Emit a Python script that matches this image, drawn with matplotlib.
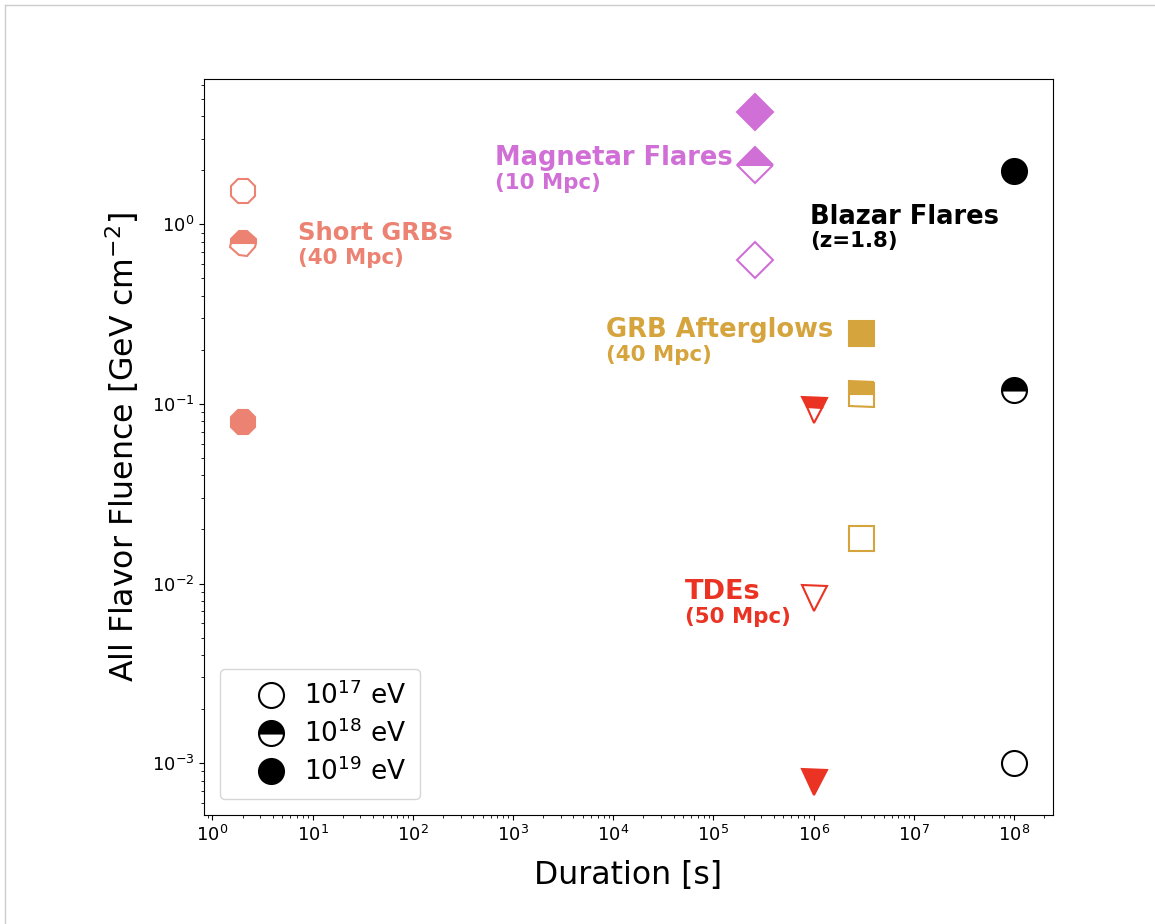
import matplotlib
matplotlib.use("Agg")
import matplotlib.pyplot as plt
from matplotlib.lines import Line2D

# source classes: duration [s] and fluence at 1e17, 1e18, 1e19 eV
sources = ["Short GRBs", "Magnetar Flares", "TDEs", "GRB Afterglows", "Blazar Flares"]
distances = ["(40 Mpc)", "(10 Mpc)", "(50 Mpc)", "(40 Mpc)", "(z=1.8)"]
durations = [2, 2.6e5, 1e6, 3e6, 1e8]
fluence_e17 = [1.54, 0.63, 0.0083, 0.018, 0.001]
fluence_e18 = [0.79, 2.15, 0.093, 0.113, 0.119]
fluence_e19 = [0.079, 4.2, 0.00079, 0.249, 1.97]

colors = ["#ec8272", "#d070d6", "#ea3323", "#d6a43c", "black"]
markers = ["8", "D", "v", "s", "o"]
# where the source name goes (x, y of name line, y of distance line), and its size
label_pos = [(7.2, 0.89, 0.65), (665, 2.35, 1.71), (5.2e4, 0.00903, 0.00649),
             (8.4e3, 0.259, 0.188), (9.2e5, 1.1, 0.805)]
name_size = [17.5, 18.5, 19.5, 18.5, 18.5]

fig = plt.figure(figsize=(11.55, 9.24), dpi=100)
ax = fig.add_axes([0.1766, 0.118, 0.7348, 0.7965])

ms, mew = 18, 1.5
for i in range(len(sources)):
    c = colors[i]
    ax.plot(durations[i], fluence_e17[i], ls="none", marker=markers[i], ms=ms, mew=mew,
            mec=c, mfc="white")
    ax.plot(durations[i], fluence_e18[i], ls="none", marker=markers[i], ms=ms, mew=mew,
            mec=c, mfc=c, fillstyle="top", markerfacecoloralt="white")
    ax.plot(durations[i], fluence_e19[i], ls="none", marker=markers[i], ms=ms, mew=mew,
            mec=c, mfc=c)
    lx, ly1, ly2 = label_pos[i]
    ax.text(lx, ly1, sources[i], color=c, fontsize=name_size[i], fontweight="bold", va="center")
    ax.text(lx, ly2, distances[i], color=c, fontsize=15.4, fontweight="bold", va="center")

ax.set_xscale("log")
ax.set_yscale("log")
ax.set_xlabel("Duration [s]", fontsize=22.7, labelpad=11)
ax.set_ylabel("All Flavor Fluence [GeV cm$^{-2}$]", fontsize=22.7, labelpad=8)
ax.tick_params(labelsize=13)

handles = [
    Line2D([], [], ls="none", marker="o", ms=ms, mew=mew, mec="black", mfc="white"),
    Line2D([], [], ls="none", marker="o", ms=ms, mew=mew, mec="black", mfc="black",
           fillstyle="top", markerfacecoloralt="white"),
    Line2D([], [], ls="none", marker="o", ms=ms, mew=mew, mec="black", mfc="black"),
]
ax.legend(handles, ["10$^{17}$ eV", "10$^{18}$ eV", "10$^{19}$ eV"], loc="lower left",
          fontsize=19, handlelength=2.9, handletextpad=-0.2, borderpad=0.5,
          labelspacing=0.35, borderaxespad=0.6)

# faint frame of the screenshot
fig.add_artist(Line2D([5 / 1155, 1], [1 - 5 / 924, 1 - 5 / 924], color="#cccccc", lw=1))
fig.add_artist(Line2D([5 / 1155, 5 / 1155], [0, 1 - 5 / 924], color="#cccccc", lw=1))

fig.savefig("out.png", dpi=100)
